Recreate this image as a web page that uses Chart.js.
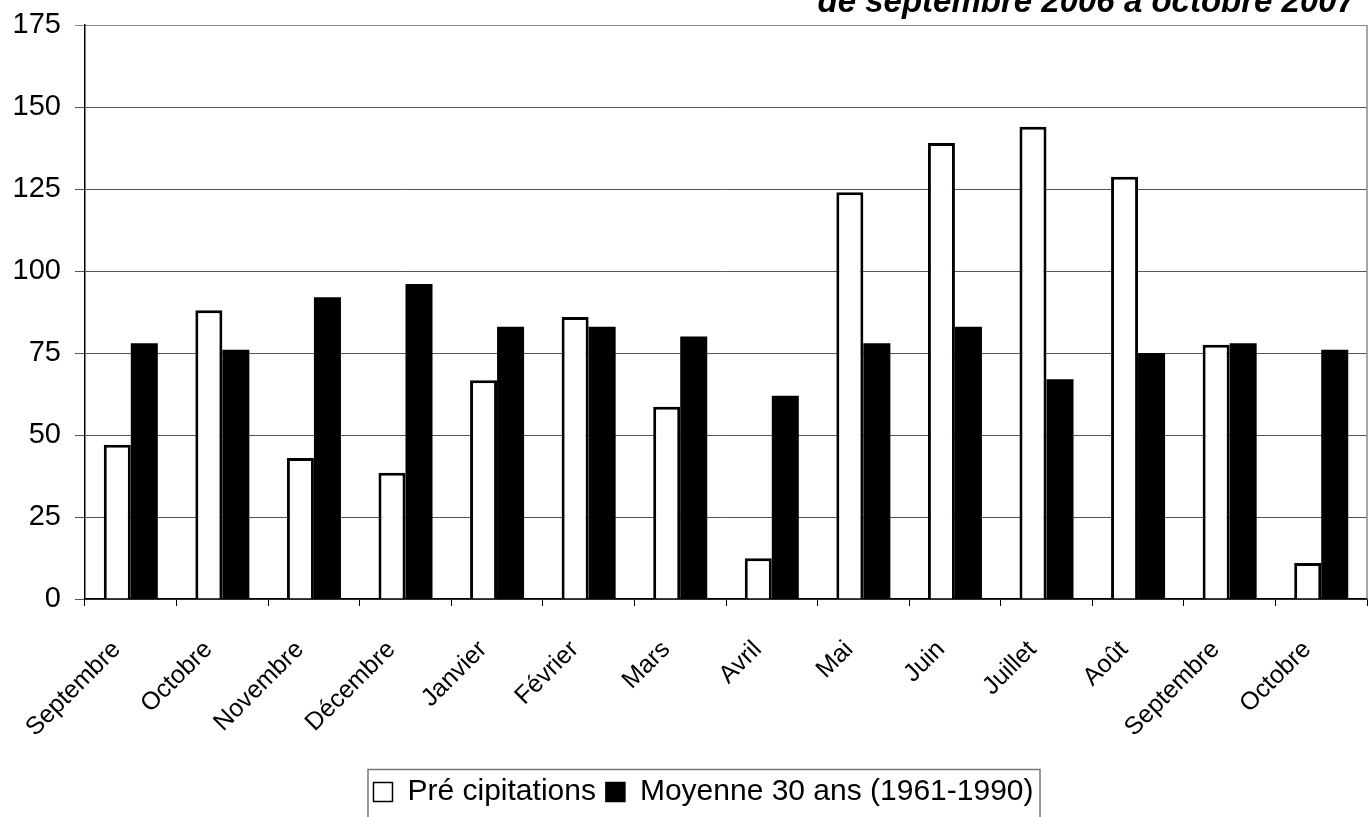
<!DOCTYPE html>
<html><head><meta charset="utf-8">
<script src="https://cdn.jsdelivr.net/npm/chart.js@4/dist/chart.umd.min.js"></script>
<style>html,body{margin:0;padding:0;background:#fff;overflow:hidden}</style>
</head><body>
<canvas id="c" width="1372" height="817"></canvas>
<script>
const categories = ['Septembre','Octobre','Novembre','Décembre','Janvier','Février','Mars','Avril','Mai','Juin','Juillet','Août','Septembre','Octobre'];
const precipitations = [47, 88, 43, 38.5, 66.7, 86, 58.6, 12.4, 124, 139, 144, 128.7, 77.5, 11];
const moyenne30 = [78, 76, 92, 96, 83, 83, 80, 62, 78, 83, 67, 75, 78, 76];
const yTickValues = [0, 25, 50, 75, 100, 125, 150, 175];
const seriesNames = ['Pré cipitations', 'Moyenne 30 ans (1961-1990)'];
const titleText = 'de septembre 2006 à octobre 2007';

const FONT = '"Liberation Sans", Arial, sans-serif';

const decor = {
  id: 'decor',
  afterLayout(chart) {
    const lg = chart.legend;
    if (lg) { lg.left += 20; lg.right += 20; }
  },
  afterDraw(chart) {
    const ctx = chart.ctx, a = chart.chartArea;
    ctx.save();
    ctx.strokeStyle = '#888';
    ctx.lineWidth = 1.5;
    ctx.beginPath();
    ctx.moveTo(a.right, a.top);
    ctx.lineTo(a.right, a.bottom);
    ctx.stroke();
    ctx.fillStyle = '#000';
    ctx.font = 'italic bold 33px ' + FONT;
    ctx.textAlign = 'right';
    ctx.textBaseline = 'alphabetic';
    ctx.fillText(titleText, 1355, 12);
    const lg = chart.legend;
    if (lg && lg.legendHitBoxes && lg.legendHitBoxes.length) {
      const hb = lg.legendHitBoxes;
      const l = Math.min(...hb.map(h => h.left)) - 6;
      const r = Math.max(...hb.map(h => h.left + h.width)) + 6;
      ctx.strokeStyle = '#777';
      ctx.lineWidth = 1.5;
      ctx.strokeRect(l + 0.5, 769.5, r - l, 80);
    }
    ctx.restore();
  }
};

new Chart(document.getElementById('c'), {
  type: 'bar',
  data: {
    labels: categories,
    datasets: [
      { label: seriesNames[0], data: precipitations, backgroundColor: '#fff', borderColor: '#000', borderWidth: 3, borderSkipped: 'start' },
      { label: seriesNames[1], data: moyenne30, backgroundColor: '#000', borderColor: '#000', borderWidth: 0 }
    ]
  },
  options: {
    responsive: false,
    devicePixelRatio: 1,
    animation: false,
    layout: { padding: { left: 0, right: 5, top: 25, bottom: 0 } },
    datasets: { bar: { categoryPercentage: 0.59, barPercentage: 1.0 } },
    plugins: {
      legend: {
        position: 'bottom',
        labels: {
          font: { family: FONT, size: 30 },
          color: '#000',
          boxWidth: 19, boxHeight: 19, padding: 10,
          generateLabels(chart) {
            return chart.data.datasets.map((d, i) => ({
              text: d.label, fillStyle: d.backgroundColor, strokeStyle: '#000',
              lineWidth: 1.5, hidden: false, datasetIndex: i, fontColor: '#000'
            }));
          }
        }
      },
      tooltip: { enabled: false },
      title: { display: false }
    },
    scales: {
      x: {
        grid: { display: true, drawOnChartArea: false, drawTicks: true, tickLength: 7, color: '#000', offset: true },
        border: { color: '#000', width: 1.5 },
        ticks: {
          font: { family: FONT, size: 25 }, color: '#000',
          maxRotation: 45, minRotation: 45, autoSkip: false, padding: 29, labelOffset: -14
        },
        afterFit(s) { s.height = 168; s.paddingTop = 0; s.paddingBottom = 0; }
      },
      y: {
        min: 0, max: 175,
        afterBuildTicks(s) { s.ticks = yTickValues.map(v => ({ value: v })); },
        grid: {
          drawTicks: true, tickLength: 10,
          color: ctx => (ctx.tick && ctx.tick.value === 175) ? '#888' : '#555',
          lineWidth: 1
        },
        border: { color: '#000', width: 1.5 },
        ticks: { font: { family: FONT, size: 29 }, color: '#000', padding: 14 },
        afterFit(s) { s.width = 85; s.paddingTop = 0; s.paddingBottom = 0; }
      }
    }
  },
  plugins: [decor]
});
</script>
</body></html>
